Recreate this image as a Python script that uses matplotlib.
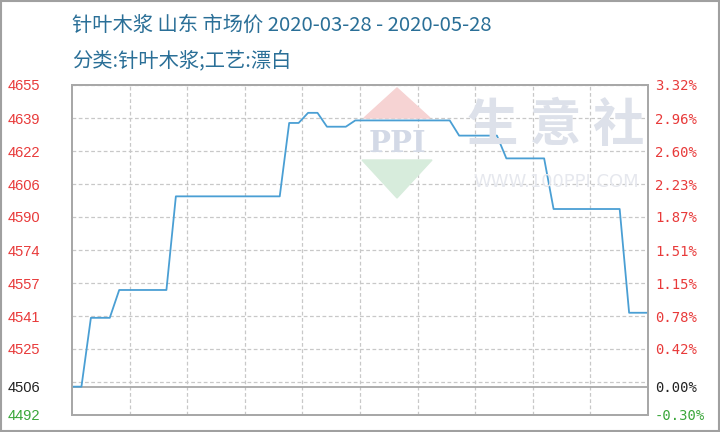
import numpy as np
import pandas as pd
import matplotlib
matplotlib.use('Agg')
import matplotlib.pyplot as plt
from matplotlib.patches import Polygon, Rectangle

plt.rcParams['font.family'] = ['Noto Sans CJK SC', 'DejaVu Sans']

# daily market price, 2020-03-28 .. 2020-05-28
dates = pd.date_range('2020-03-28', '2020-05-28', freq='D')
prices = [4506, 4506,
          4540, 4540, 4540,
          4553.75, 4553.75, 4553.75, 4553.75, 4553.75, 4553.75,
          4600, 4600, 4600, 4600, 4600, 4600, 4600, 4600, 4600, 4600, 4600, 4600,
          4636.25, 4636.25,
          4641.25, 4641.25,
          4634.4, 4634.4, 4634.4,
          4637.5, 4637.5, 4637.5, 4637.5, 4637.5, 4637.5, 4637.5, 4637.5, 4637.5, 4637.5, 4637.5,
          4630, 4630, 4630, 4630, 4630,
          4618.75, 4618.75, 4618.75, 4618.75, 4618.75,
          4593.75, 4593.75, 4593.75, 4593.75, 4593.75, 4593.75, 4593.75, 4593.75,
          4542.5, 4542.5, 4542.5]
base_price = 4506
y_min, y_max = 4492, 4655

left_labels = ['4492', '4525', '4541', '4557', '4574', '4590', '4606', '4622', '4639', '4655']
right_labels = ['-0.30%', '0.42%', '0.78%', '1.15%', '1.51%', '1.87%', '2.23%', '2.60%', '2.96%', '3.32%']

title = '针叶木浆 山东 市场价 2020-03-28 - 2020-05-28'
subtitle = '分类:针叶木浆;工艺:漂白'

W, H = 720, 432
fig = plt.figure(figsize=(7.2, 4.32), dpi=100)
ax = fig.add_axes([72 / W, 1 - 415 / H, 576 / W, 330 / H])

x = np.arange(len(prices))
grid_y = np.linspace(y_min, y_max, 11)

# watermark (figure pixel coords -> fractions)
def fx(px):
    return px / W

def fy(py):
    return 1 - py / H

fig.patches.append(Polygon([(fx(397), fy(88)), (fx(364), fy(118)), (fx(430), fy(118))],
                           closed=True, transform=fig.transFigure, color='#f6d3d3', zorder=0))
fig.patches.append(Polygon([(fx(362), fy(160)), (fx(432), fy(160)), (fx(397), fy(198))],
                           closed=True, transform=fig.transFigure, color='#d7ecdc', zorder=0))
fig.text(fx(397), fy(143), 'PPI', color='#d3d9e6', fontsize=21, fontweight='bold',
         ha='center', va='center', family='DejaVu Serif', zorder=0)
fig.text(fx(556), fy(125), '生 意 社', color='#dde1ea', fontsize=37, fontweight='bold',
         ha='center', va='center', zorder=0)
fig.text(fx(556), fy(182), 'WWW.100PPI.COM', color='#e6e8ee', fontsize=13,
         ha='center', va='center', family='DejaVu Sans', zorder=0)
ax.set_facecolor('none')

# grid
for gy in grid_y:
    ax.axhline(gy, color='#c8c8c8', lw=0.9, ls=(0, (3, 2)), zorder=1)
for gx in np.linspace(0, len(prices) - 1, 11)[1:-1]:
    ax.axvline(gx, color='#c8c8c8', lw=0.9, ls=(0, (3, 2)), zorder=1)
ax.axhline(base_price, color='#a8a8a8', lw=1.3, zorder=2)

ax.plot(x, prices, color='#4a9fd4', lw=1.3, zorder=3)

ax.set_xlim(0, len(prices) - 1)
ax.set_ylim(y_min, y_max)
ax.set_xticks([])

left_ticks = [grid_y[0]] + list(grid_y[2:]) + [base_price]
ax.set_yticks(left_ticks)
ax.set_yticklabels(left_labels + [str(base_price)], family='Liberation Sans', fontsize=10.5)
ax.tick_params(axis='y', length=0, pad=23)
for lbl, val in zip(ax.get_yticklabels(), left_ticks):
    lbl.set_color('#222222' if val == base_price else ('#3aa63a' if val < base_price else '#e83a3a'))

ax2 = ax.twinx()
ax2.set_ylim(y_min, y_max)
ax2.set_yticks(left_ticks)
ax2.set_yticklabels(right_labels + ['0.00%'], family='DejaVu Sans Mono', fontsize=10)
ax2.tick_params(axis='y', length=0, pad=5)
for lbl, val in zip(ax2.get_yticklabels(), left_ticks):
    lbl.set_color('#222222' if val == base_price else ('#3aa63a' if val < base_price else '#e83a3a'))

for a in (ax, ax2):
    for sp in a.spines.values():
        sp.set_color('#a8a8a8')
        sp.set_linewidth(1.3)

fig.text(fx(72), fy(25), title, color='#2a6f97', fontsize=14.6, ha='left', va='center')
fig.text(fx(72), fy(62), subtitle, color='#2a6f97', fontsize=14.6, ha='left', va='center')

# outer frame
fig.patches.append(Rectangle((0.002, 0.003), 0.996, 0.994, transform=fig.transFigure,
                             fill=False, edgecolor='#a0a0a0', lw=1.5))

fig.savefig('out.png', dpi=100)
